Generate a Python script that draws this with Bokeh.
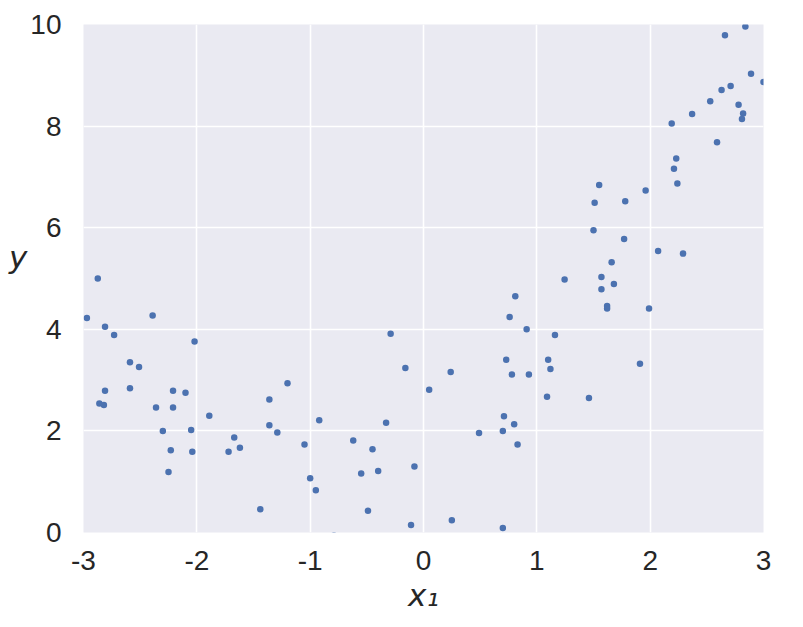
from bokeh.plotting import figure
from bokeh.models import FixedTicker, Range1d
from bokeh.embed import file_html
from bokeh.resources import INLINE

# ---- data ----
x1 = [
    -2.874, -2.97, -2.81, -2.73, -2.39, -2.02, -2.59, -2.51, -2.81, -2.59,
    -2.86, -2.82, -2.21, -2.10, -2.36, -2.21, -1.89, -2.30, -2.05, -2.23,
    -2.04, -2.25, -1.67, -1.72, -1.62, -1.36, -1.20, -1.36, -1.29, -1.05,
    -1.00, -1.44,
    0.76, 0.91, -0.29, -0.16, 0.24, 0.73, 0.78, 0.93, 0.05, -0.92,
    -0.33, 0.71, 0.80, 0.70, 0.49, 0.83, -0.62, -0.45, -0.55, -0.40,
    -0.08, -0.95, -0.49, -0.11, 0.25, 0.70, -0.79,
    1.55, 1.51, 1.78, 1.96, 1.50, 1.77, 2.07, 2.29, 1.66, 1.245,
    1.57, 1.68, 1.57, 1.62, 1.62, 1.99, 0.81, 1.16, 1.10, 1.12,
    1.91, 1.09, 1.46,
    2.84, 2.66, 2.89, 3.00, 2.71, 2.63, 2.53, 2.37, 2.78, 2.82,
    2.81, 2.19, 2.59, 2.23, 2.21, 2.24,
]
y = [
    5.00, 4.22, 4.05, 3.89, 4.27, 3.76, 3.35, 3.26, 2.79, 2.84,
    2.54, 2.51, 2.79, 2.75, 2.46, 2.46, 2.30, 2.00, 2.02, 1.62,
    1.59, 1.19, 1.87, 1.59, 1.67, 2.62, 2.94, 2.11, 1.97, 1.73,
    1.07, 0.46,
    4.24, 4.00, 3.91, 3.24, 3.16, 3.40, 3.11, 3.11, 2.81, 2.21,
    2.16, 2.29, 2.13, 2.00, 1.96, 1.73, 1.81, 1.64, 1.16, 1.21,
    1.30, 0.83, 0.43, 0.15, 0.24, 0.09, -0.06,
    6.84, 6.49, 6.52, 6.73, 5.95, 5.78, 5.54, 5.49, 5.32, 4.98,
    5.03, 4.89, 4.79, 4.46, 4.41, 4.41, 4.65, 3.89, 3.40, 3.22,
    3.32, 2.67, 2.65,
    9.96, 9.79, 9.03, 8.87, 8.79, 8.71, 8.49, 8.24, 8.42, 8.25,
    8.14, 8.05, 7.68, 7.36, 7.16, 6.87,
]

x_ticks = [-3, -2, -1, 0, 1, 2, 3]
x_tick_labels = ["-3", "-2", "-1", "0", "1", "2", "3"]
y_ticks = [0, 2, 4, 6, 8, 10]
y_tick_labels = ["0", "2", "4", "6", "8", "10"]
x_label = "x\u2081"
y_label = "y"

TEXT = "#262626"
DOT = "#4C72B0"

p = figure(
    frame_width=680, frame_height=508,
    x_range=Range1d(-3, 3), y_range=Range1d(0, 10),
    output_backend="svg", toolbar_location=None,
    min_border_left=83, min_border_right=20,
    min_border_top=24, min_border_bottom=84,
    background_fill_color="#EAEAF2", border_fill_color="white",
)
p.outline_line_color = None

p.scatter(x1, y, size=6.5, fill_color=DOT, line_color=None)

for ax, ticks, labels in ((p.xaxis[0], x_ticks, x_tick_labels),
                          (p.yaxis[0], y_ticks, y_tick_labels)):
    ax.ticker = FixedTicker(ticks=ticks)
    ax.major_label_overrides = {t: l for t, l in zip(ticks, labels)}
    ax.axis_line_color = None
    ax.major_tick_line_color = None
    ax.minor_tick_line_color = None
    ax.major_tick_in = 0
    ax.major_tick_out = 0
    ax.major_label_text_font = "Liberation Sans"
    ax.major_label_text_font_size = "28px"
    ax.major_label_text_color = TEXT
    ax.axis_label_text_font = "DejaVu Sans"
    ax.axis_label_text_font_style = "italic"
    ax.axis_label_text_font_size = "31px"
    ax.axis_label_text_color = TEXT

p.xaxis[0].major_label_standoff = 18
p.yaxis[0].major_label_standoff = 22

p.xaxis[0].axis_label = x_label
p.xaxis[0].axis_label_standoff = 4
# trailing empty line lifts the single-letter label, as in the reference
p.yaxis[0].axis_label = y_label + "\n"
p.yaxis[0].axis_label_standoff = 0
if "axis_label_orientation" in p.yaxis[0].properties():
    p.yaxis[0].axis_label_orientation = "horizontal"

p.xgrid.ticker = FixedTicker(ticks=x_ticks)
p.ygrid.ticker = FixedTicker(ticks=y_ticks)
for g in (p.xgrid[0], p.ygrid[0]):
    g.grid_line_color = "white"
    g.grid_line_width = 1.6

open("out.html", "w").write(file_html(p, INLINE))
